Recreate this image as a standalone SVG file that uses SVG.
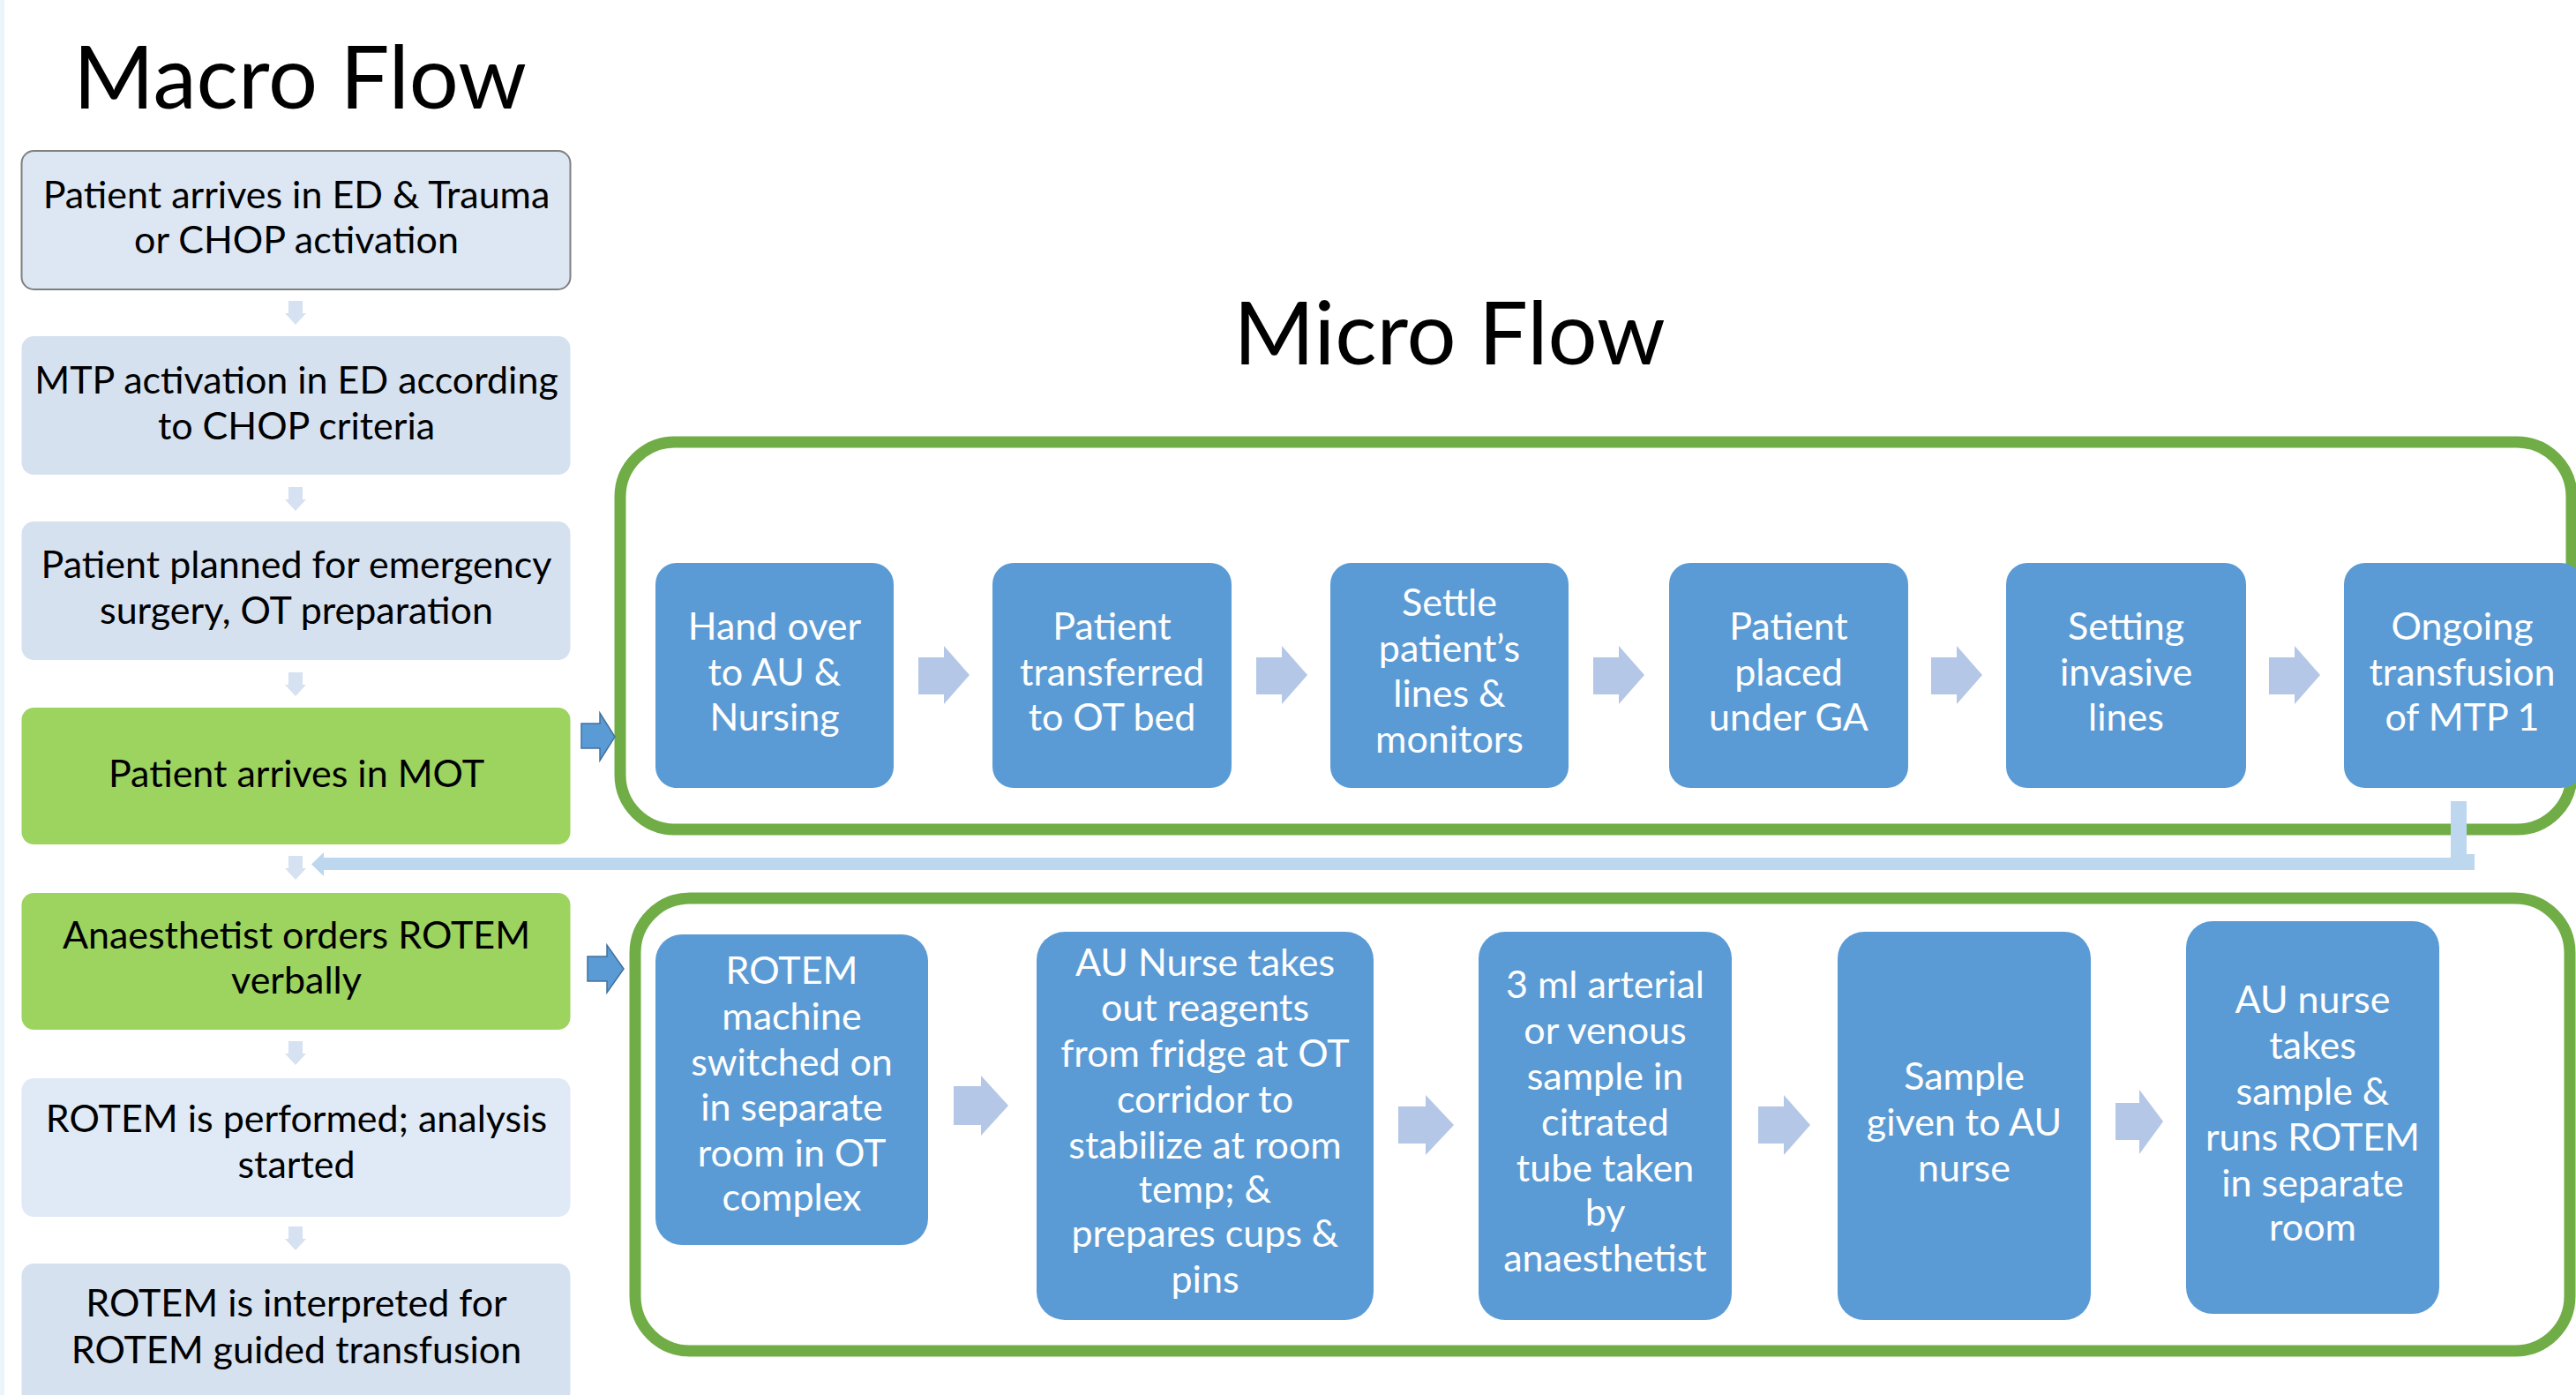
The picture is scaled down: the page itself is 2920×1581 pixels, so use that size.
<svg xmlns="http://www.w3.org/2000/svg" width="2920" height="1581" viewBox="0 0 2920 1581">
<style>
  text { font-family: Lato, "Liberation Sans", sans-serif; }
  .title { font-size: 99px; fill: #000; text-anchor: middle; }
  .mt { font-size: 43px; fill: #000; text-anchor: middle; }
  .wt { font-size: 43px; fill: #fff; text-anchor: middle; }
  .blue { fill: #5b9bd5; }
  .chev { fill: #b4c7e7; }
  .down { fill: #d6e1f1; }
  .cont { fill: none; stroke: #70ad47; stroke-width: 13; }
  .push { fill: #5b9bd5; stroke: #41719c; stroke-width: 1.5; }
  .ret { fill: #bdd7ee; }
</style>
<defs>
  <path id="chev1" d="M0 13 H29 V0 L58 33 L29 66 V55 H0 Z"/>
  <path id="dn" d="M4 0 H20 V14 H24 L12 27 L0 14 H4 Z"/>
</defs>
<rect x="0" y="0" width="2920" height="1581" fill="#fff"/>
<rect x="0" y="0" width="5" height="1581" fill="#eaf5fb"/>

<text class="title" x="340" y="123">Macro Flow</text>
<text class="title" x="1643" y="413">Micro Flow</text>

<!-- Macro nodes -->
<g id="macro1"><rect x="24.5" y="171" width="622" height="157" rx="14" fill="#dde7f4" stroke="#7f7f7f" stroke-width="2"/>
<text class="mt" x="336" y="236">Patient arrives in ED &amp; Trauma</text><text class="mt" x="336" y="287">or CHOP activation</text></g>
<g id="macro2"><rect x="24.5" y="381" width="622" height="157" rx="14" fill="#d6e1f0"/>
<text class="mt" x="336" y="446">MTP activation in ED according</text><text class="mt" x="336" y="498">to CHOP criteria</text></g>
<g id="macro3"><rect x="24.5" y="591" width="622" height="157" rx="14" fill="#d6e1f0"/>
<text class="mt" x="336" y="655">Patient planned for emergency</text><text class="mt" x="336" y="707">surgery, OT preparation</text></g>
<g id="macro4"><rect x="24.5" y="802" width="622" height="155" rx="14" fill="#9dd35f"/>
<text class="mt" x="336" y="892">Patient arrives in MOT</text></g>
<g id="macro5"><rect x="24.5" y="1012" width="622" height="155" rx="14" fill="#9dd35f"/>
<text class="mt" x="336" y="1075">Anaesthetist orders ROTEM</text><text class="mt" x="336" y="1126">verbally</text></g>
<g id="macro6"><rect x="24.5" y="1222" width="622" height="157" rx="14" fill="#dfeaf6"/>
<text class="mt" x="336" y="1283">ROTEM is performed; analysis</text><text class="mt" x="336" y="1335">started</text></g>
<g id="macro7"><rect x="24.5" y="1432" width="622" height="160" rx="14" fill="#d6e1f0"/>
<text class="mt" x="336" y="1492">ROTEM is interpreted for</text><text class="mt" x="336" y="1545">ROTEM guided transfusion</text></g>

<!-- Containers -->
<g id="micro-row1-frame"><rect class="cont" x="703" y="501" width="2212" height="439" rx="62"/></g>
<g id="micro-row2-frame"><rect class="cont" x="720" y="1018" width="2193" height="513" rx="62"/></g>

<!-- Micro row 1 -->
<g id="m1"><rect class="blue" x="743" y="638" width="270" height="255" rx="24"/>
<text class="wt" x="878" y="725">Hand over</text><text class="wt" x="878" y="777">to AU &amp;</text><text class="wt" x="878" y="828">Nursing</text></g>
<g id="m2"><rect class="blue" x="1125" y="638" width="271" height="255" rx="24"/>
<text class="wt" x="1260.5" y="725">Patient</text><text class="wt" x="1260.5" y="777">transferred</text><text class="wt" x="1260.5" y="828">to OT bed</text></g>
<g id="m3"><rect class="blue" x="1508" y="638" width="270" height="255" rx="24"/>
<text class="wt" x="1643" y="698">Settle</text><text class="wt" x="1643" y="750">patient’s</text><text class="wt" x="1643" y="801">lines &amp;</text><text class="wt" x="1643" y="853">monitors</text></g>
<g id="m4"><rect class="blue" x="1892" y="638" width="271" height="255" rx="24"/>
<text class="wt" x="2027.5" y="725">Patient</text><text class="wt" x="2027.5" y="777">placed</text><text class="wt" x="2027.5" y="828">under GA</text></g>
<g id="m5"><rect class="blue" x="2274" y="638" width="272" height="255" rx="24"/>
<text class="wt" x="2410" y="725">Setting</text><text class="wt" x="2410" y="777">invasive</text><text class="wt" x="2410" y="828">lines</text></g>
<g id="m6"><rect class="blue" x="2657" y="638" width="270" height="255" rx="24"/>
<text class="wt" x="2791" y="725">Ongoing</text><text class="wt" x="2791" y="777">transfusion</text><text class="wt" x="2791" y="828">of MTP 1</text></g>

<!-- Micro row 2 -->
<g id="r1"><rect class="blue" x="743" y="1059" width="309" height="352" rx="30"/>
<text class="wt" x="897.5" y="1115">ROTEM</text><text class="wt" x="897.5" y="1167">machine</text><text class="wt" x="897.5" y="1219">switched on</text><text class="wt" x="897.5" y="1270">in separate</text><text class="wt" x="897.5" y="1322">room in OT</text><text class="wt" x="897.5" y="1372">complex</text></g>
<g id="r2"><rect class="blue" x="1175" y="1056" width="382" height="440" rx="32"/>
<text class="wt" x="1366" y="1106">AU Nurse takes</text><text class="wt" x="1366" y="1157">out reagents</text><text class="wt" x="1366" y="1209">from fridge at OT</text><text class="wt" x="1366" y="1261">corridor to</text><text class="wt" x="1366" y="1313">stabilize at room</text><text class="wt" x="1366" y="1363">temp; &amp;</text><text class="wt" x="1366" y="1413">prepares cups &amp;</text><text class="wt" x="1366" y="1465">pins</text></g>
<g id="r3"><rect class="blue" x="1676" y="1056" width="287" height="440" rx="30"/>
<text class="wt" x="1819.5" y="1131">3 ml arterial</text><text class="wt" x="1819.5" y="1183">or venous</text><text class="wt" x="1819.5" y="1235">sample in</text><text class="wt" x="1819.5" y="1287">citrated</text><text class="wt" x="1819.5" y="1339">tube taken</text><text class="wt" x="1819.5" y="1389">by</text><text class="wt" x="1819.5" y="1441">anaesthetist</text></g>
<g id="r4"><rect class="blue" x="2083" y="1056" width="287" height="440" rx="30"/>
<text class="wt" x="2226.5" y="1235">Sample</text><text class="wt" x="2226.5" y="1287">given to AU</text><text class="wt" x="2226.5" y="1339">nurse</text></g>
<g id="r5"><rect class="blue" x="2478" y="1044" width="287" height="445" rx="30"/>
<text class="wt" x="2621.5" y="1148">AU nurse</text><text class="wt" x="2621.5" y="1200">takes</text><text class="wt" x="2621.5" y="1252">sample &amp;</text><text class="wt" x="2621.5" y="1304">runs ROTEM</text><text class="wt" x="2621.5" y="1356">in separate</text><text class="wt" x="2621.5" y="1406">room</text></g>

<!-- Connectors -->
<g id="connectors">
  <use href="#dn" class="down" x="323" y="341"/>
  <use href="#dn" class="down" x="323" y="552"/>
  <use href="#dn" class="down" x="323" y="762"/>
  <use href="#dn" class="down" x="323" y="970"/>
  <use href="#dn" class="down" x="323" y="1180"/>
  <use href="#dn" class="down" x="323" y="1390"/>

  <path class="push" d="M659 820 H680 V808 L697 835 L680 862 V848 H659 Z"/>
  <path class="push" d="M666 1084 H688 V1071 L707 1098 L688 1125 V1112 H666 Z"/>

  <use href="#chev1" class="chev" x="1041" y="732"/>
  <use href="#chev1" class="chev" x="1424" y="732"/>
  <use href="#chev1" class="chev" x="1806" y="732"/>
  <use href="#chev1" class="chev" x="2189" y="732"/>
  <use href="#chev1" class="chev" x="2572" y="732"/>

  <path class="chev" d="M1081 1231 H1112 V1219 L1143 1253 L1112 1287 V1275 H1081 Z"/>
  <path class="chev" d="M1585 1254 H1616 V1241 L1648 1275 L1616 1309 V1296 H1585 Z"/>
  <path class="chev" d="M1993 1254 H2022 V1241 L2052 1275 L2022 1309 V1296 H1993 Z"/>
  <path class="chev" d="M2398 1250 H2425 V1235 L2452 1271 L2425 1308 V1292 H2398 Z"/>

  <path class="ret" d="M2778 908 H2796 V968 H2805 V986 H367 V993 L353 979.5 L367 966 V972 H2778 Z"/>
</g>
</svg>
